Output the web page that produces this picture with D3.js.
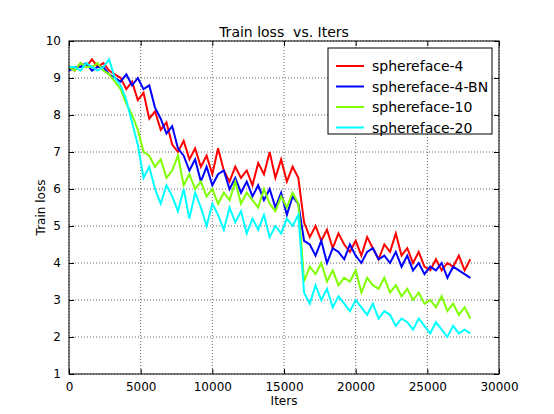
<!DOCTYPE html>
<html>
<head>
<script src="https://d3js.org/d3.v7.min.js"></script>
<style>
  body { margin: 0; background: #fff; }
  text { font-family: "DejaVu Sans", sans-serif; white-space: pre; }
</style>
</head>
<body>
<svg width="554" height="414"></svg>
<script>
// iterations sampled every 400
const step = 400;
const names = ["sphereface-4", "sphereface-4-BN", "sphereface-10", "sphereface-20"];
const colors = ["#ff0000", "#0000ff", "#7fff00", "#00ffff"];
const s4 = [9.3,9.2,9.4,9.3,9.5,9.3,9.4,9.2, 9.1,9.0,8.7,8.9,8.4,8.6,7.9,8.1, 7.6,7.8,7.2,7.0,7.3,6.8,7.1,6.6,
  6.9,6.4,7.1,6.5,6.2,6.6,6.3,6.5, 6.1,6.7,6.4,7.0,6.3,6.8,6.2,6.6, 6.3,5.1,4.7,5.0,4.6,4.9,4.4,4.8,
  4.5,4.3,4.6,4.2,4.7,4.4,4.1,4.5, 4.3,4.8,4.2,4.4,4.0,4.3,3.9,3.8, 4.1,3.8,4.0,3.9,4.2,3.8,4.1];
const s4bn = [9.2,9.3,9.3,9.4,9.2,9.3,9.3,9.1, 9.0,8.9,9.1,8.8,9.0,8.7,8.8,8.2, 7.9,7.5,7.7,7.1,6.9,6.5,6.8,6.2,
  6.6,6.1,6.4,6.5,6.0,6.3,5.9,6.2, 5.8,6.1,5.7,6.0,5.5,5.9,5.3,5.8, 5.6,4.6,4.5,4.2,4.6,4.0,4.4,4.3,
  4.1,4.5,4.2,4.0,4.3,4.4,4.1,4.2, 4.0,4.3,3.9,4.2,3.8,4.0,3.7,3.9, 3.8,4.0,3.6,3.9,3.8,3.7,3.6];
const s10 = [9.3,9.2,9.4,9.3,9.3,9.4,9.2,9.1, 8.9,8.7,8.3,8.0,7.6,7.0,6.9,6.6, 6.8,6.3,6.5,6.9,6.1,6.4,6.0,6.2,
  5.8,6.0,5.6,5.9,5.7,6.2,5.6,5.9, 5.7,5.5,6.0,5.6,5.4,5.8,5.5,5.9, 5.6,3.5,3.9,3.7,4.0,3.5,3.8,3.4,
  3.6,3.5,3.8,3.2,3.6,3.4,3.3,3.6, 3.2,3.4,3.1,3.3,3.0,3.2,2.9,3.0, 2.8,3.1,2.7,2.9,2.6,2.8,2.5];
const s20 = [9.3,9.3,9.2,9.4,9.3,9.2,9.3,9.5, 9.0,8.8,8.4,7.8,7.2,6.3,6.6,6.0, 5.6,6.1,5.8,5.4,6.0,5.2,5.9,5.5,
  5.0,5.6,5.3,4.9,5.5,5.1,5.4,4.8, 5.2,4.9,5.3,4.7,5.0,4.8,5.2,5.0, 5.3,3.2,2.9,3.4,3.0,3.3,2.8,3.1,
  2.9,2.7,3.0,2.8,2.6,2.9,2.5,2.7, 2.6,2.3,2.5,2.4,2.2,2.5,2.3,2.1, 2.4,2.2,2.0,2.3,2.1,2.2,2.1];
const series = [s4, s4bn, s10, s20];
const xTicks = [0, 5000, 10000, 15000, 20000, 25000, 30000];
const yTicks = [1,2,3,4,5,6,7,8,9,10];

const L = 69, R = 499, T = 41, B = 374;
const svg = d3.select("svg");
const x = d3.scaleLinear().domain([0, 30000]).range([L, R]);
const y = d3.scaleLinear().domain([1, 10]).range([B, T]);

// grid
svg.append("g").selectAll("line").data(xTicks).enter().append("line")
  .attr("x1", d => x(d)).attr("x2", d => x(d)).attr("y1", T).attr("y2", B)
  .attr("stroke", "#000").attr("stroke-width", 0.6).attr("stroke-dasharray", "1,2");
svg.append("g").selectAll("line").data(yTicks).enter().append("line")
  .attr("x1", L).attr("x2", R).attr("y1", d => y(d)).attr("y2", d => y(d))
  .attr("stroke", "#000").attr("stroke-width", 0.6).attr("stroke-dasharray", "1,2");

const line = d3.line().x((d, i) => x(i * step)).y(d => y(d));
series.forEach((s, k) => {
  svg.append("path").datum(s).attr("d", line).attr("fill", "none")
    .attr("stroke", colors[k]).attr("stroke-width", 2);
});

// axes (inward ticks)
const ax = svg.append("g").attr("transform", `translate(0,${B})`)
  .call(d3.axisBottom(x).tickValues(xTicks).tickFormat(d3.format("d")).tickSizeInner(-5).tickSizeOuter(0).tickPadding(8));
const ay = svg.append("g").attr("transform", `translate(${L},0)`)
  .call(d3.axisLeft(y).tickValues(yTicks).tickSizeInner(-5).tickSizeOuter(0).tickPadding(8));
[ax, ay].forEach(a => { a.select(".domain").remove(); a.selectAll("text").attr("font-size", 12).attr("fill", "#000"); });
svg.append("g").call(d3.axisTop(x).tickValues(xTicks).tickSizeInner(-5).tickSizeOuter(0).tickFormat(""))
  .attr("transform", `translate(0,${T})`).select(".domain").remove();
svg.append("g").call(d3.axisRight(y).tickValues(yTicks).tickSizeInner(-5).tickSizeOuter(0).tickFormat(""))
  .attr("transform", `translate(${R},0)`).select(".domain").remove();
svg.append("rect").attr("x", L).attr("y", T).attr("width", R - L).attr("height", B - T)
  .attr("fill", "none").attr("stroke", "#000");

svg.append("text").attr("x", (L + R) / 2).attr("y", 37).attr("text-anchor", "middle")
  .attr("font-size", 14).text("Train loss  vs. Iters");
svg.append("text").attr("x", (L + R) / 2).attr("y", 405).attr("text-anchor", "middle")
  .attr("font-size", 12).text("Iters");
svg.append("text").attr("transform", `translate(45,${(T + B) / 2}) rotate(-90)`)
  .attr("text-anchor", "middle").attr("font-size", 12).text("Train loss");

// legend
svg.append("rect").attr("x", 328).attr("y", 48).attr("width", 164).attr("height", 86)
  .attr("fill", "#fff").attr("stroke", "#000");
names.forEach((n, k) => {
  const yy = 66 + k * 20.5;
  svg.append("line").attr("x1", 336).attr("x2", 364).attr("y1", yy).attr("y2", yy)
    .attr("stroke", colors[k]).attr("stroke-width", 2);
  svg.append("text").attr("x", 372).attr("y", yy + 5).attr("font-size", 14).text(n);
});
</script>
</body>
</html>
